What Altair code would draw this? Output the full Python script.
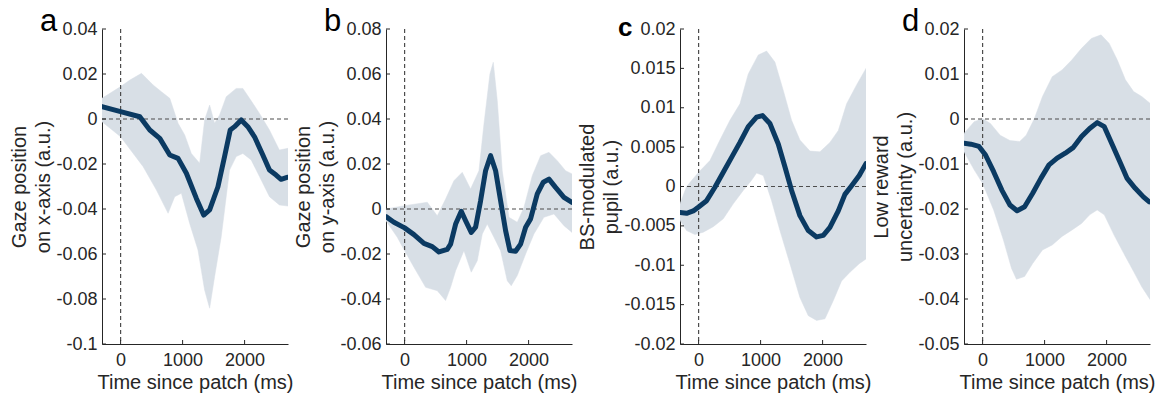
import altair as alt
import pandas as pd

FONT = "Liberation Sans"
LINE_COLOR = "#0b3a62"
BAND_COLOR = "#d8dfe6"
AXIS_COLOR = "#262626"

T_DOMAIN = [-300, 2700]
X_TICKS = [0, 1000, 2000]
X_TITLE = "Time since patch (ms)"

# ---------------- panel a ----------------
a_mean_t = [-300, 0, 310, 471, 632, 793, 927, 1061, 1222, 1340, 1436, 1570, 1677, 1768, 1838, 1945, 2052, 2160, 2294, 2401, 2508, 2588, 2685]
a_mean_v = [0.0055, 0.0033, 0.0010, -0.0049, -0.0086, -0.0160, -0.0175, -0.0241, -0.0353, -0.0427, -0.0404, -0.0301, -0.0167, -0.0049, -0.0034, -0.0004, -0.0034, -0.0079, -0.0160, -0.0227, -0.0249, -0.0268, -0.0259]
a_up_t = [-300, 0, 150, 337, 525, 659, 793, 927, 1034, 1141, 1275, 1355, 1436, 1516, 1597, 1704, 1865, 1972, 2079, 2240, 2401, 2561, 2700]
a_up_v = [0.0092, 0.0144, 0.0173, 0.0203, 0.0151, 0.0121, 0.0092, -0.0019, -0.0071, -0.0153, -0.0197, -0.0004, 0.0062, -0.0019, 0.0018, 0.0099, 0.0136, 0.0136, 0.0092, 0.0025, -0.0049, -0.0138, -0.0130]
a_lo_t = [-300, 0, 203, 364, 578, 766, 873, 980, 1114, 1248, 1355, 1436, 1516, 1623, 1757, 1865, 1972, 2106, 2240, 2401, 2561, 2700]
a_lo_v = [-0.0012, -0.0079, -0.0153, -0.0212, -0.0316, -0.0419, -0.0345, -0.0330, -0.0464, -0.0582, -0.0760, -0.0841, -0.0701, -0.0523, -0.0227, -0.0167, -0.0153, -0.0182, -0.0256, -0.0345, -0.0382, -0.0387]
a_y_domain = [-0.1, 0.04]
a_y_ticks = [-0.1, -0.08, -0.06, -0.04, -0.02, 0, 0.02, 0.04]
a_y_title = ["Gaze position", "on x-axis (a.u.)"]

# ---------------- panel b ----------------
b_mean_t = [-300, -172, 0, 151, 312, 446, 554, 688, 742, 823, 914, 984, 1075, 1145, 1226, 1306, 1387, 1468, 1548, 1629, 1699, 1790, 1871, 1952, 2032, 2140, 2237, 2328, 2435, 2570, 2694]
b_mean_v = [-0.0034, -0.0059, -0.0084, -0.0114, -0.0153, -0.0167, -0.0191, -0.0179, -0.0156, -0.0067, -0.0010, -0.0052, -0.0104, -0.0081, 0.0037, 0.0170, 0.0237, 0.0170, 0.0037, -0.0096, -0.0185, -0.0188, -0.0156, -0.0081, -0.0044, 0.0067, 0.0119, 0.0133, 0.0096, 0.0052, 0.0030]
b_up_t = [-300, 0, 366, 527, 661, 796, 930, 1064, 1199, 1280, 1376, 1430, 1495, 1575, 1683, 1817, 1925, 2059, 2194, 2328, 2462, 2597, 2700]
b_up_v = [0.0000, 0.0015, 0.0030, -0.0030, 0.0044, 0.0126, 0.0163, 0.0089, 0.0170, 0.0378, 0.0600, 0.0652, 0.0481, 0.0170, -0.0037, -0.0059, 0.0007, 0.0148, 0.0237, 0.0252, 0.0215, 0.0170, 0.0156]
b_lo_t = [-300, -118, 0, 151, 339, 527, 661, 742, 823, 957, 1075, 1172, 1253, 1333, 1441, 1548, 1656, 1720, 1817, 1952, 2086, 2247, 2409, 2570, 2700]
b_lo_v = [-0.0052, -0.0126, -0.0185, -0.0259, -0.0348, -0.0363, -0.0407, -0.0348, -0.0274, -0.0185, -0.0281, -0.0230, -0.0111, -0.0067, -0.0126, -0.0185, -0.0319, -0.0341, -0.0296, -0.0200, -0.0111, -0.0037, -0.0022, -0.0074, -0.0104]
b_y_domain = [-0.06, 0.08]
b_y_ticks = [-0.06, -0.04, -0.02, 0, 0.02, 0.04, 0.06, 0.08]
b_y_title = ["Gaze position", "on y-axis (a.u.)"]

# ---------------- panel c ----------------
c_mean_t = [-300, -194, -86, 0, 129, 263, 398, 532, 667, 801, 935, 1032, 1150, 1285, 1392, 1500, 1634, 1769, 1903, 2011, 2118, 2253, 2360, 2468, 2591, 2699]
c_mean_v = [-0.0033, -0.0034, -0.0031, -0.0026, -0.0018, -0.0001, 0.0018, 0.0037, 0.0056, 0.0076, 0.0088, 0.0090, 0.0080, 0.0054, 0.0025, -0.0005, -0.0037, -0.0056, -0.0064, -0.0062, -0.0052, -0.0031, -0.0010, 0.0001, 0.0014, 0.0029]
c_up_t = [-300, -194, 0, 183, 344, 505, 667, 801, 962, 1097, 1231, 1366, 1500, 1634, 1796, 1957, 2118, 2253, 2387, 2548, 2700]
c_up_v = [-0.0022, 0.0000, 0.0018, 0.0033, 0.0059, 0.0084, 0.0105, 0.0143, 0.0167, 0.0172, 0.0158, 0.0122, 0.0084, 0.0059, 0.0045, 0.0044, 0.0056, 0.0071, 0.0105, 0.0129, 0.0150]
c_lo_t = [-300, -194, -59, 75, 237, 398, 559, 720, 855, 935, 1043, 1177, 1312, 1473, 1634, 1769, 1903, 2038, 2172, 2306, 2441, 2591, 2700]
c_lo_v = [-0.0043, -0.0056, -0.0061, -0.0058, -0.0051, -0.0041, -0.0022, -0.0005, 0.0008, 0.0017, 0.0014, -0.0018, -0.0056, -0.0098, -0.0141, -0.0164, -0.0170, -0.0168, -0.0145, -0.0120, -0.0109, -0.0098, -0.0092]
c_y_domain = [-0.02, 0.02]
c_y_ticks = [-0.02, -0.015, -0.01, -0.005, 0, 0.005, 0.01, 0.015, 0.02]
c_y_title = ["BS-modulated", "pupil (a.u.)"]

# ---------------- panel d ----------------
d_mean_t = [-300, -189, -58, 47, 178, 310, 441, 556, 677, 808, 940, 1071, 1202, 1333, 1465, 1596, 1727, 1848, 1963, 2094, 2226, 2331, 2462, 2593, 2688]
d_mean_v = [-0.0054, -0.0056, -0.0061, -0.0080, -0.0117, -0.0158, -0.0191, -0.0204, -0.0195, -0.0165, -0.0132, -0.0102, -0.0087, -0.0076, -0.0063, -0.0039, -0.0021, -0.0008, -0.0017, -0.0058, -0.0099, -0.0132, -0.0154, -0.0173, -0.0184]
d_up_t = [-300, -136, 0, 126, 283, 441, 598, 703, 835, 966, 1123, 1281, 1438, 1596, 1753, 1911, 2042, 2173, 2304, 2436, 2567, 2700]
d_up_v = [-0.0032, -0.0006, 0.0001, -0.0010, -0.0036, -0.0048, -0.0050, -0.0036, 0.0001, 0.0050, 0.0094, 0.0109, 0.0131, 0.0157, 0.0179, 0.0187, 0.0168, 0.0131, 0.0087, 0.0061, 0.0050, 0.0035]
d_lo_t = [-300, -136, 0, 178, 336, 467, 546, 677, 808, 966, 1123, 1281, 1438, 1596, 1727, 1848, 1963, 2120, 2278, 2436, 2567, 2700]
d_lo_v = [-0.0073, -0.0113, -0.0143, -0.0202, -0.0269, -0.0332, -0.0356, -0.0350, -0.0321, -0.0291, -0.0280, -0.0261, -0.0247, -0.0232, -0.0213, -0.0202, -0.0213, -0.0258, -0.0299, -0.0339, -0.0373, -0.0401]
d_y_domain = [-0.05, 0.02]
d_y_ticks = [-0.05, -0.04, -0.03, -0.02, -0.01, 0, 0.01, 0.02]
d_y_title = ["Low reward", "uncertainty (a.u.)"]

W, H = 186, 315


def panel(letter, bold, lsize, mean_t, mean_v, up_t, up_v, lo_t, lo_v, ydom, yticks, ytitle):
    line_df = pd.DataFrame({"t": mean_t, "v": mean_v})
    poly_t = list(up_t) + list(reversed(lo_t))
    poly_v = list(up_v) + list(reversed(lo_v))
    band_df = pd.DataFrame({"t": poly_t, "v": poly_v, "o": list(range(len(poly_t)))})

    xs = alt.Scale(domain=T_DOMAIN, nice=False, zero=False)
    ys = alt.Scale(domain=ydom, nice=False, zero=False)
    xaxis = alt.Axis(values=X_TICKS, title=X_TITLE, labelExpr="'' + datum.value",
                     labelOverlap=False)
    yaxis = alt.Axis(values=yticks, title=ytitle, labelExpr="'' + datum.value",
                     labelOverlap=False, labelBound=False, labelFlush=False)

    def X(field):
        return alt.X(field, scale=xs, axis=xaxis)

    def Y(field):
        return alt.Y(field, scale=ys, axis=yaxis)

    band = alt.Chart(band_df).mark_line(
        fill=BAND_COLOR, stroke=BAND_COLOR, strokeWidth=0.5, clip=True
    ).encode(x=X("t:Q"), y=Y("v:Q"), order="o:Q")
    zero_h = alt.Chart(pd.DataFrame({"v": [0]})).mark_rule(
        color="#4d4d4d", strokeDash=[4, 3], strokeWidth=1.2
    ).encode(y=Y("v:Q"))
    zero_v = alt.Chart(pd.DataFrame({"t": [0]})).mark_rule(
        color="#4d4d4d", strokeDash=[4, 3], strokeWidth=1.2
    ).encode(x=X("t:Q"))
    mean = alt.Chart(line_df).mark_line(
        color=LINE_COLOR, strokeWidth=5, clip=True, strokeCap="round", strokeJoin="round"
    ).encode(x=X("t:Q"), y=Y("v:Q"))
    ytick_marks = alt.Chart(pd.DataFrame({"v": yticks})).mark_rule(
        color=AXIS_COLOR, strokeWidth=1
    ).encode(y=Y("v:Q"), x=alt.value(0), x2=alt.value(4))
    xtick_marks = alt.Chart(pd.DataFrame({"t": X_TICKS})).mark_rule(
        color=AXIS_COLOR, strokeWidth=1
    ).encode(x=X("t:Q"), y=alt.value(H), y2=alt.value(H - 4))

    return alt.layer(band, zero_h, zero_v, mean, ytick_marks, xtick_marks).properties(
        width=W,
        height=H,
        title=alt.TitleParams(
            text=letter,
            anchor="start",
            frame="group",
            dx=-62,
            dy=42,
            offset=0,
            baseline="alphabetic",
            fontSize=lsize,
            fontWeight="bold" if bold else "normal",
            font=FONT,
            color="#000000",
        ),
    )


pa = panel("a", False, 31, a_mean_t, a_mean_v, a_up_t, a_up_v, a_lo_t, a_lo_v, a_y_domain, a_y_ticks, a_y_title)
pb = panel("b", False, 31, b_mean_t, b_mean_v, b_up_t, b_up_v, b_lo_t, b_lo_v, b_y_domain, b_y_ticks, b_y_title)
pc = panel("c", True, 26, c_mean_t, c_mean_v, c_up_t, c_up_v, c_lo_t, c_lo_v, c_y_domain, c_y_ticks, c_y_title)
pd_ = panel("d", False, 31, d_mean_t, d_mean_v, d_up_t, d_up_v, d_lo_t, d_lo_v, d_y_domain, d_y_ticks, d_y_title)

chart = alt.hconcat(pa, pb, pc, pd_, spacing=-1).properties(
    padding={"left": 9, "top": 5, "right": 5, "bottom": 5}
).configure(font=FONT).configure_view(
    stroke="transparent"
).configure_axis(
    grid=False,
    ticks=False,
    tickSize=0,
    domainColor=AXIS_COLOR,
    domainWidth=1,
    labelFont=FONT,
    labelFontSize=18,
    labelColor=AXIS_COLOR,
    labelPadding=5,
    labelOverlap=False,
    titleFont=FONT,
    titleFontSize=20,
    titleFontWeight="normal",
    titleColor=AXIS_COLOR,
    titleLineHeight=24,
    titlePadding=2,
    zindex=1,
).configure_axisBottom(
    labelPadding=7,
    titlePadding=3,
)

chart.save("out.html", embed_options={"renderer": "svg", "actions": False})
